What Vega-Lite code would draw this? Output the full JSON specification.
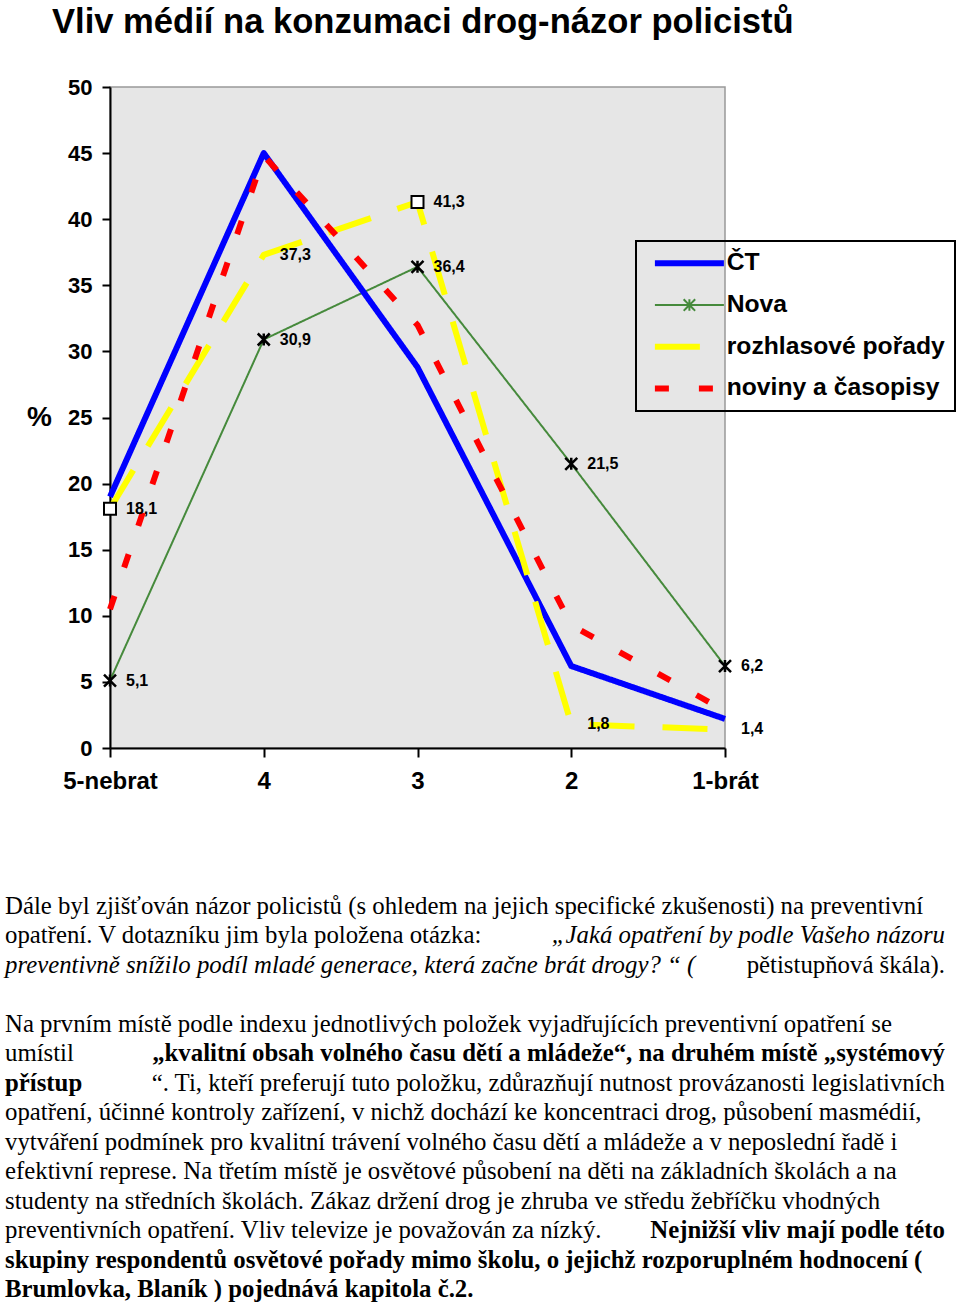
{
  "$schema": "https://vega.github.io/schema/vega-lite/v6.json",
  "padding": {"left": 5, "top": 4, "right": 0, "bottom": 0},
  "config": {
    "locale": {"number": {"decimal": ",", "thousands": " ", "grouping": [3], "currency": ["", " Kč"]}}
  },
  "spacing": 100,
  "vconcat": [
    {
      "width": 615,
      "height": 661,
      "view": {"fill": "#e6e6e6", "stroke": "#999999", "strokeWidth": 1.5},
      "title": {
        "text": "Vliv médií na konzumaci drog-názor policistů",
        "anchor": "start", "frame": "group", "dx": -58, "offset": 35,
        "font": "Liberation Sans", "fontSize": 34.6, "fontWeight": "bold", "color": "black"
      },
      "data": {"values": [
        {"series": "Nova", "cat": "5-nebrat", "value": 5.1},
        {"series": "Nova", "cat": "4", "value": 30.9},
        {"series": "Nova", "cat": "3", "value": 36.4},
        {"series": "Nova", "cat": "2", "value": 21.5},
        {"series": "Nova", "cat": "1-brát", "value": 6.2},
        {"series": "ČT", "cat": "5-nebrat", "value": 19.0},
        {"series": "ČT", "cat": "4", "value": 45.0},
        {"series": "ČT", "cat": "3", "value": 28.8},
        {"series": "ČT", "cat": "2", "value": 6.2},
        {"series": "ČT", "cat": "1-brát", "value": 2.2},
        {"series": "rozhlasové pořady", "cat": "5-nebrat", "value": 18.1},
        {"series": "rozhlasové pořady", "cat": "4", "value": 37.3},
        {"series": "rozhlasové pořady", "cat": "3", "value": 41.3},
        {"series": "rozhlasové pořady", "cat": "2", "value": 1.8},
        {"series": "rozhlasové pořady", "cat": "1-brát", "value": 1.4},
        {"series": "noviny a časopisy", "cat": "5-nebrat", "value": 10.5},
        {"series": "noviny a časopisy", "cat": "4", "value": 44.8},
        {"series": "noviny a časopisy", "cat": "3", "value": 32.0},
        {"series": "noviny a časopisy", "cat": "2", "value": 9.3},
        {"series": "noviny a časopisy", "cat": "1-brát", "value": 2.8}
      ]},
      "encoding": {
        "x": {
          "field": "cat", "type": "ordinal",
          "sort": ["5-nebrat", "4", "3", "2", "1-brát"],
          "scale": {"type": "point", "padding": 0},
          "axis": {
            "title": null, "labelAngle": 0, "grid": false,
            "domainColor": "black", "domainWidth": 2,
            "tickColor": "black", "tickWidth": 2, "tickSize": 9,
            "labelPadding": 12, "labelFont": "Liberation Sans", "labelFontSize": 24,
            "labelFontWeight": "bold", "labelColor": "black", "labelOverlap": false
          }
        },
        "y": {
          "field": "value", "type": "quantitative",
          "scale": {"domain": [0, 50], "nice": false},
          "axis": {
            "values": [0, 5, 10, 15, 20, 25, 30, 35, 40, 45, 50],
            "grid": false, "domainColor": "black", "domainWidth": 2,
            "tickColor": "black", "tickWidth": 2, "tickSize": 8,
            "labelPadding": 10, "labelFont": "Liberation Sans", "labelFontSize": 22,
            "labelFontWeight": "bold", "labelColor": "black", "labelFlush": false, "labelOverlap": false,
            "title": "%", "titleAngle": 0, "titleX": -71, "titleY": 330,
            "titleAlign": "center", "titleBaseline": "middle",
            "titleFont": "Liberation Sans", "titleFontSize": 28, "titleFontWeight": "bold", "titleColor": "black"
          }
        }
      },
      "layer": [
        {
          "transform": [{"filter": "datum.series === 'Nova'"}],
          "mark": {"type": "line", "strokeWidth": 2},
          "encoding": {
            "color": {
              "field": "series", "type": "nominal",
              "scale": {
                "domain": ["ČT", "Nova", "rozhlasové pořady", "noviny a časopisy"],
                "range": ["#0000ff", "#468a3c", "#ffff00", "#ff0000"]
              },
              "legend": {
                "title": null, "orient": "none", "legendX": 526, "legendY": 154,
                "symbolType": "M-0.3,0H5.7", "symbolSize": 529,
                "labelOffset": 56, "labelFont": "Liberation Sans", "labelFontSize": 24.7,
                "labelFontWeight": "bold", "labelColor": "black", "labelLimit": 400,
                "padding": 10, "rowPadding": 15.7, "strokeColor": "black",
                "encode": {
                  "legend": {"update": {"strokeWidth": {"value": 2}}},
                  "symbols": {"update": {
                    "strokeWidth": {"signal": "datum.value === 'Nova' ? 2 : 6"},
                    "shape": {"signal": "datum.value === 'Nova' ? 'M-0.3,0H5.7M2.2,-0.5L3.2,0.5M3.2,-0.5L2.2,0.5M2.7,-0.5V0.5' : 'M-0.3,0H5.7'"}
                  }}
                }
              }
            },
            "strokeDash": {
              "field": "series", "type": "nominal",
              "scale": {
                "domain": ["ČT", "Nova", "rozhlasové pořady", "noviny a časopisy"],
                "range": [[1, 0], [1, 0], [45, 28], [14, 30]]
              }
            }
          }
        },
        {
          "transform": [{"filter": "datum.series !== 'Nova'"}],
          "mark": {"type": "line", "strokeWidth": 6, "strokeCap": "butt", "strokeJoin": "round"},
          "encoding": {
            "color": {"field": "series", "type": "nominal"},
            "strokeDash": {"field": "series", "type": "nominal"}
          }
        },
        {
          "transform": [{"filter": "datum.series === 'Nova'"}],
          "mark": {
            "type": "point", "shape": "M-1,-1L1,1M1,-1L-1,1M0,-1V1",
            "size": 144, "filled": false, "stroke": "black", "strokeWidth": 2.5, "opacity": 1
          }
        },
        {
          "transform": [{"filter": "datum.series === 'rozhlasové pořady' && (datum.cat === '5-nebrat' || datum.cat === '3')"}],
          "mark": {
            "type": "point", "shape": "square", "size": 144, "filled": true,
            "fill": "white", "stroke": "black", "strokeWidth": 2, "opacity": 1
          }
        },
        {
          "transform": [{"filter": "datum.series === 'Nova' || datum.series === 'rozhlasové pořady'"}],
          "mark": {
            "type": "text", "align": "left", "baseline": "middle", "dx": 16,
            "font": "Liberation Sans", "fontSize": 16, "fontWeight": "bold", "color": "black"
          },
          "encoding": {"text": {"field": "value", "type": "quantitative", "format": ".1f"}}
        }
      ]
    },
    {
      "width": 940,
      "height": 383,
      "view": {"stroke": null},
      "data": {"values": [
        {"line": 1, "side": "left", "style": "normal", "text": "Dále byl  zjišťován názor policistů (s ohledem na  jejich specifické zkušenosti) na preventivní"},
        {"line": 2, "side": "left", "style": "normal", "text": "opatření. V dotazníku jim byla položena otázka:"},
        {"line": 2, "side": "right", "style": "italic", "text": "„Jaká opatření by podle Vašeho názoru"},
        {"line": 3, "side": "left", "style": "italic", "text": "preventivně snížilo podíl mladé generace, která začne  brát drogy? “ ("},
        {"line": 3, "side": "right", "style": "normal", "text": "pětistupňová škála).\u00a0\u00a0\u00a0\u00a0\u00a0\u00a0"},
        {"line": 5, "side": "left", "style": "normal", "text": "Na prvním místě podle indexu jednotlivých položek vyjadřujících preventivní opatření se"},
        {"line": 6, "side": "left", "style": "normal", "text": "umístil"},
        {"line": 6, "side": "right", "style": "bold", "text": "„kvalitní obsah volného času dětí a mládeže“, na druhém místě  „systémový"},
        {"line": 7, "side": "left", "style": "bold", "text": "přístup"},
        {"line": 7, "side": "right", "style": "normal", "text": "“. Ti, kteří preferují tuto položku, zdůrazňují nutnost provázanosti  legislativních"},
        {"line": 8, "side": "left", "style": "normal", "text": "opatření, účinné kontroly zařízení, v nichž dochází ke koncentraci drog, působení masmédií,"},
        {"line": 9, "side": "left", "style": "normal", "text": "vytváření podmínek pro kvalitní trávení volného času dětí a mládeže a v neposlední řadě i"},
        {"line": 10, "side": "left", "style": "normal", "text": "efektivní represe. Na třetím místě je osvětové působení na děti na základních školách a na"},
        {"line": 11, "side": "left", "style": "normal", "text": "studenty na středních školách. Zákaz držení drog je zhruba ve středu žebříčku vhodných"},
        {"line": 12, "side": "left", "style": "normal", "text": "preventivních opatření. Vliv televize je považován za nízký."},
        {"line": 12, "side": "right", "style": "bold", "text": "Nejnižší vliv mají podle této"},
        {"line": 13, "side": "left", "style": "bold", "text": "skupiny respondentů osvětové pořady mimo školu, o jejichž rozporuplném hodnocení ("},
        {"line": 14, "side": "left", "style": "bold", "text": "Brumlovka, Blaník ) pojednává kapitola č.2."}
      ]},
      "encoding": {
        "x": {"field": "side", "type": "nominal", "scale": {"type": "point", "padding": 0, "domain": ["left", "right"], "range": [-105, 835]}, "axis": null},
        "y": {"field": "line", "type": "quantitative", "scale": {"domain": [1, 14], "reverse": true, "nice": false, "zero": false}, "axis": null},
        "text": {"field": "text", "type": "nominal"}
      },
      "layer": [
        {"transform": [{"filter": "datum.style === 'normal' && datum.side === 'left'"}],
         "mark": {"type": "text", "align": "left", "baseline": "alphabetic", "font": "Liberation Serif", "fontSize": 24.8, "color": "black"}},
        {"transform": [{"filter": "datum.style === 'normal' && datum.side === 'right'"}],
         "mark": {"type": "text", "align": "right", "baseline": "alphabetic", "font": "Liberation Serif", "fontSize": 24.8, "color": "black"}},
        {"transform": [{"filter": "datum.style === 'bold' && datum.side === 'left'"}],
         "mark": {"type": "text", "align": "left", "baseline": "alphabetic", "font": "Liberation Serif", "fontSize": 24.8, "fontWeight": "bold", "color": "black"}},
        {"transform": [{"filter": "datum.style === 'bold' && datum.side === 'right'"}],
         "mark": {"type": "text", "align": "right", "baseline": "alphabetic", "font": "Liberation Serif", "fontSize": 24.8, "fontWeight": "bold", "color": "black"}},
        {"transform": [{"filter": "datum.style === 'italic' && datum.side === 'left'"}],
         "mark": {"type": "text", "align": "left", "baseline": "alphabetic", "font": "Liberation Serif", "fontSize": 24.8, "fontStyle": "italic", "color": "black"}},
        {"transform": [{"filter": "datum.style === 'italic' && datum.side === 'right'"}],
         "mark": {"type": "text", "align": "right", "baseline": "alphabetic", "font": "Liberation Serif", "fontSize": 24.8, "fontStyle": "italic", "color": "black"}}
      ]
    }
  ]
}
